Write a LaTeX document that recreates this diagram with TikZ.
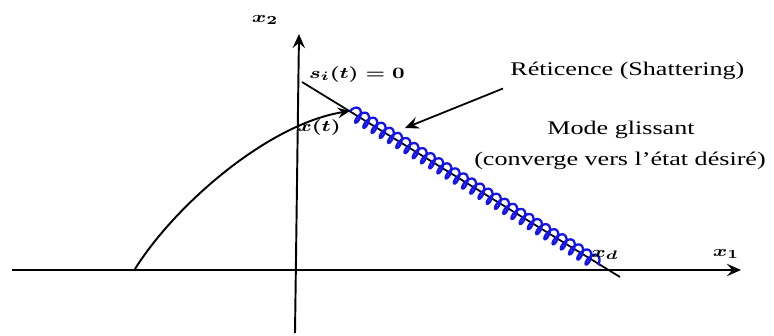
\documentclass[tikz,border=0pt]{standalone}
\usepackage{amsmath}
\usepackage{fontspec}
\setmainfont{Liberation Serif}
\usepackage{tikz}
\usetikzlibrary{arrows.meta,decorations.pathmorphing,positioning}
\usepackage{xcolor}
\definecolor{myblue}{RGB}{20,20,235}
\newcommand{\etire}[1]{\scalebox{1.35}[1]{#1}}

\begin{document}
\begin{tikzpicture}[x=0.02cm,y=-0.02cm]
  \useasboundingbox (0,0) rectangle (774,335);
  \tikzset{axe/.style={line width=1.1pt,-{Stealth[length=8pt,width=7pt,inset=3pt]}},
    txt/.style={inner sep=0pt,anchor=base,font=\fontsize{11}{14}\selectfont},
    lbl/.style={inner sep=0pt,anchor=base,font=\fontsize{9.5}{12}\selectfont}}

  % Axes
  \coordinate (g) at (12,270);
  \coordinate (d) at (741,270);
  \coordinate (b) at (295,333);
  \coordinate (h) at (299,34);
  \draw[axe] (g) -- (d);
  \draw[axe] (b) -- (h);
  \node[lbl] (x1) at (726,256) {\etire{$\boldsymbol{x_1}$}};
  \node[lbl] (x2) at (265,22) {\etire{$\boldsymbol{x_2}$}};

  % Surface de glissement
  \coordinate (s0) at (302,82);
  \coordinate (s1) at (620,277);
  \coordinate (c0) at (350,111);
  \coordinate (xd) at (600,265);
  \draw[line width=1pt] (s0) -- (s1);
  \draw[myblue,line width=1.3pt,decorate,decoration={coil,aspect=0.5,segment length=5.5pt,amplitude=4pt}] (c0) -- (xd);
  \node[lbl] (si) at (357,78) {\etire{$\boldsymbol{s_i(t)=0}$}};
  \node[lbl] (lxd) at (605,257) {\etire{$\boldsymbol{x_d}$}};

  % Trajectoire
  \coordinate (p0) at (135,269);
  \draw[line width=1.1pt,-{Stealth[length=7pt,width=6pt,inset=2.5pt]}] (p0) .. controls (175,205) and (268,124) .. (c0);
  \node[lbl] (xt) at (319,131) {\etire{$\boldsymbol{x(t)}$}};

  % Textes
  \node[txt,anchor=base west] (ret) at (510,75) {\etire{R\'eticence (Shattering)}};
  \coordinate (rt) at (405,128);
  \draw[line width=1pt,-{Stealth[length=8pt,width=7pt,inset=3pt]}] ([shift={(-7,9)}]ret.south west) -- (rt);
  \node[txt] (mg) at (621,134) {\etire{Mode glissant}};
  \node[txt] (cv) at (620,165) {\etire{(converge vers l'\'etat d\'esir\'e)}};
\end{tikzpicture}
\end{document}
